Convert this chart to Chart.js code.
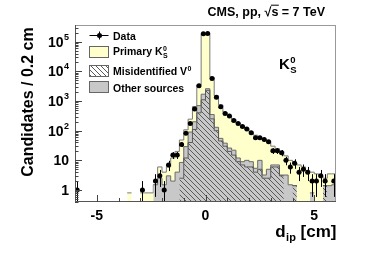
<!DOCTYPE html>
<html>
<head>
<meta charset="utf-8">
<script src="https://cdn.jsdelivr.net/npm/chart.js@4.4.1/dist/chart.umd.min.js"></script>
<style>
html,body{margin:0;padding:0;background:#ffffff;}
#box{position:relative;width:374px;height:253px;}
</style>
</head>
<body>
<div id="box"><canvas id="chart" width="374" height="253"></canvas></div>
<script>
// ---- data (bins of 0.2 cm) ----
const binEdges = [-6,-5.8,-5.6,-5.4,-5.2,-5,-4.8,-4.6,-4.4,-4.2,
  -4,-3.8,-3.6,-3.4,-3.2,-3,-2.8,-2.6,-2.4,-2.2,
  -2,-1.8,-1.6,-1.4,-1.2,-1,-0.8,-0.6,-0.4,-0.2,
  0,0.2,0.4,0.6,0.8,1,1.2,1.4,1.6,1.8,
  2,2.2,2.4,2.6,2.8,3,3.2,3.4,3.6,3.8,
  4,4.2,4.4,4.6,4.8,5,5.2,5.4,5.6,5.8,6];

const dataCounts = [
  1,0,0,0,0,0,0,0,0,0,
  0,0,0,0,0,1,0,0,2,3,
  1,7,15,15,34,82,175,540,3300,186000,
  190000,5800,1350,640,380,310,220,175,138,115,
  86,58,58,50,42,21,21,18,10,6,
  8,4,5,4,2,2,3,2,0,2];

const primaryK0S = [
  0,0.8,0,0,0,0,0,0,0,0,
  0,0,0,0.8,0,0,0.8,0.8,0,3.5,
  2.5,3,10,16,40,78,155,450,2800,188000,
  187000,6000,1370,685,380,294,218,173,136,108,
  83,65,50,49,39,23,18,17,11,8.5,
  6.6,5.6,6,4.5,3.2,2.7,3,1.1,2.1,2];

const misidV0 = [
  0,0,0,0,0,0,0,0,0,0,
  1,0,0,0,0,0,0,0,1,0,
  0,0,0,0,2.5,12,40,110,400,1100,
  2300,250,100,45,30,20,15,9,7,6,
  6,4,5,2.5,2.5,6,6,3,3,0,
  1.4,1.4,0,0,0,0,0,1.4,1.4,0];

const otherSources = [
  0,0,0,0,0,0,0,0,0,0,
  0,0,0.8,0,0,0.8,0,0,0.5,2.5,
  1.5,3,2,4,6,17,50,90,300,600,
  300,100,30,10,8,6,7,3,2,4,
  3,1.4,5,0.7,2.5,1,1,0.2,0.2,1.5,
  0,0,0,0,0.8,0.8,0,0,0,1.5];

const xTickValues = [-5, 0, 5];
const xTickLabels = ['-5', '0', '5'];
const yTickValues = [1, 10, 100, 1000, 10000, 100000];
const yTickMantissa = ['1', '10', '10', '10', '10', '10'];
const yTickExponent = ['', '', '2', '3', '4', '5'];

// ---- styling ----
const FONT = '"Liberation Sans", Arial, Helvetica, sans-serif';
const font = (s) => `bold ${s}px ${FONT}`;
const YELLOW = '#ffffcc';
const GRAY = '#c8c8c8';
const OUTLINE = '#7a7a7a';

const canvas = document.getElementById('chart');
const ctx0 = canvas.getContext('2d');

function makeHatch(ctx) {
  const s = 5;
  const c = document.createElement('canvas');
  c.width = s; c.height = s;
  const g = c.getContext('2d');
  g.strokeStyle = '#5a5a5a';
  g.lineWidth = 1;
  g.beginPath();
  g.moveTo(-1, -1); g.lineTo(s + 1, s + 1);
  g.moveTo(-1, s - 1); g.lineTo(1, s + 1);
  g.moveTo(s - 1, -1); g.lineTo(s + 1, 1);
  g.stroke();
  return ctx.createPattern(c, 'repeat');
}
const hatch = makeHatch(ctx0);

const grayTop = misidV0.map((v, i) => v + otherSources[i]);
const totalTop = grayTop.map((v, i) => v + primaryK0S[i]);

function histPoints(vals) {
  const pts = vals.map((v, i) => ({x: binEdges[i], y: v}));
  pts.push({x: binEdges[binEdges.length - 1], y: vals[vals.length - 1]});
  return pts;
}

const dataPoints = [];
dataCounts.forEach((n, i) => {
  if (n > 0) dataPoints.push({x: (binEdges[i] + binEdges[i + 1]) / 2, y: n, lo: binEdges[i], hi: binEdges[i + 1]});
});

const errorBars = {
  id: 'errorBars',
  afterDatasetsDraw(chart) {
    const {ctx, chartArea: a, scales: {x, y}} = chart;
    ctx.save();
    ctx.beginPath();
    ctx.rect(a.left, a.top, a.right - a.left, a.bottom - a.top);
    ctx.clip();
    ctx.strokeStyle = '#000';
    ctx.lineWidth = 1;
    dataPoints.forEach(p => {
      const e = Math.sqrt(p.y);
      const px = Math.round(x.getPixelForValue(p.x)) + 0.5;
      const py = Math.round(y.getPixelForValue(p.y)) + 0.5;
      const top = y.getPixelForValue(p.y + e);
      const bot = (p.y - e) > 0 ? y.getPixelForValue(p.y - e) : a.bottom;
      ctx.beginPath();
      ctx.moveTo(px, top); ctx.lineTo(px, bot);
      ctx.moveTo(x.getPixelForValue(p.lo), py); ctx.lineTo(x.getPixelForValue(p.hi), py);
      ctx.stroke();
    });
    ctx.restore();
  }
};

function line(ctx, x1, y1, x2, y2) {
  ctx.beginPath(); ctx.moveTo(x1, y1); ctx.lineTo(x2, y2); ctx.stroke();
}

function scripted(ctx, x, y, main, sup, sub, size, ssize) {
  ctx.font = font(size);
  ctx.textAlign = 'left';
  ctx.textBaseline = 'alphabetic';
  ctx.fillText(main, x, y);
  const w = ctx.measureText(main).width;
  ctx.font = font(ssize);
  if (sup) ctx.fillText(sup, x + w + 0.5, y - size * 0.4);
  if (sub) ctx.fillText(sub, x + w + 0.5, y + size * 0.3);
}

const decor = {
  id: 'decor',
  afterDraw(chart) {
    const {ctx, chartArea: a, scales: {x, y}} = chart;
    ctx.save();
    ctx.fillStyle = '#000';
    // frame
    ctx.lineWidth = 1;
    ctx.strokeStyle = '#999999';
    line(ctx, a.left, a.top + 0.5, a.right, a.top + 0.5);
    line(ctx, a.right - 0.5, a.top, a.right - 0.5, a.bottom);
    ctx.strokeStyle = '#555555';
    line(ctx, a.left + 0.5, a.top, a.left + 0.5, a.bottom);
    line(ctx, a.left, a.bottom - 0.5, a.right, a.bottom - 0.5);

    // y ticks (inward)
    ctx.strokeStyle = '#444444';
    for (let e = -1; e <= 5; e++) {
      for (let k = 1; k <= 9; k++) {
        const v = k * Math.pow(10, e);
        if (v < y.min || v > y.max) continue;
        const py = Math.round(y.getPixelForValue(v)) + 0.5;
        line(ctx, a.left, py, a.left + (k === 1 ? 7 : 3.5), py);
      }
    }
    // x ticks (inward)
    for (let t = -5; t <= 5; t++) {
      const px = Math.round(x.getPixelForValue(t)) + 0.5;
      line(ctx, px, a.bottom, px, a.bottom - (t % 5 === 0 ? 7 : 4));
    }

    // y labels
    ctx.textBaseline = 'alphabetic';
    yTickValues.forEach((v, i) => {
      const py = y.getPixelForValue(v);
      const right = 69;
      ctx.font = font(9);
      const ew = yTickExponent[i] ? ctx.measureText(yTickExponent[i]).width : 0;
      if (yTickExponent[i]) {
        ctx.textAlign = 'right';
        ctx.fillText(yTickExponent[i], right, py - 2);
      }
      ctx.font = font(14);
      ctx.textAlign = 'right';
      ctx.fillText(yTickMantissa[i], right - ew - (ew ? 0.5 : 0), py + 5);
    });

    // x labels
    ctx.font = font(14);
    ctx.textAlign = 'center';
    xTickValues.forEach((v, i) => {
      ctx.fillText(xTickLabels[i], x.getPixelForValue(v), 219.5);
    });

    // x title: d_ip [cm]
    {
      const base = 237;
      ctx.textAlign = 'left';
      ctx.font = font(17);
      const wd = ctx.measureText('d').width;
      const wc = ctx.measureText(' [cm]').width;
      ctx.font = font(11);
      const wi = ctx.measureText('ip').width;
      const x0 = a.right - (wd + wi + wc);
      ctx.font = font(17);
      ctx.fillText('d', x0, base);
      ctx.font = font(11);
      ctx.fillText('ip', x0 + wd + 0.5, base + 4);
      ctx.font = font(17);
      ctx.fillText(' [cm]', x0 + wd + wi + 0.5, base);
    }

    // y title
    ctx.save();
    ctx.translate(33, 102);
    ctx.rotate(-Math.PI / 2);
    ctx.font = font(16);
    ctx.textAlign = 'center';
    ctx.textBaseline = 'alphabetic';
    ctx.fillText('Candidates / 0.2 cm', 0, 0);
    ctx.restore();

    // top title
    {
      const t = 'CMS, pp, \u221As = 7 TeV';
      ctx.font = font(12.5);
      ctx.textAlign = 'left';
      const w = ctx.measureText(t).width;
      const x0 = 325 - w;
      const base = 15.7;
      ctx.fillText(t, x0, base);
      const wPre = ctx.measureText('CMS, pp, \u221A').width;
      const wS = ctx.measureText('s').width;
      ctx.strokeStyle = '#000';
      ctx.lineWidth = 1;
      line(ctx, x0 + wPre - 0.5, base - 10.5, x0 + wPre + wS + 0.5, base - 10.5);
    }

    // legend
    {
      const bx = 89.5, bw = 19, lx = 113;
      ctx.strokeStyle = '#000';
      ctx.lineWidth = 1;
      line(ctx, bx, 35.5, bx + bw, 35.5);
      line(ctx, 99.5, 31.5, 99.5, 39.5);
      ctx.beginPath(); ctx.arc(99.5, 35.5, 2.5, 0, Math.PI * 2); ctx.fill();

      ctx.strokeStyle = '#666666';
      ctx.fillStyle = YELLOW; ctx.fillRect(bx, 46.5, bw, 11); ctx.strokeRect(bx, 46.5, bw, 11);
      ctx.fillStyle = '#ffffff'; ctx.fillRect(bx, 65.5, bw, 11);
      ctx.fillStyle = hatch; ctx.fillRect(bx, 65.5, bw, 11); ctx.strokeRect(bx, 65.5, bw, 11);
      ctx.fillStyle = GRAY; ctx.fillRect(bx, 81.5, bw, 11); ctx.strokeRect(bx, 81.5, bw, 11);

      ctx.fillStyle = '#000';
      ctx.font = font(10.5);
      ctx.textAlign = 'left';
      ctx.fillText('Data', lx, 39.5);
      scripted(ctx, lx, 55, 'Primary K', '0', 'S', 10.5, 7);
      scripted(ctx, lx, 75, 'Misidentified V', '0', '', 10.5, 7);
      ctx.font = font(10.5);
      ctx.fillText('Other sources', lx, 91.5);
    }

    // K_S^0 annotation
    scripted(ctx, 279, 68.5, 'K', '0', 'S', 15, 9.5);

    ctx.restore();
  }
};

new Chart(canvas, {
  type: 'line',
  data: {
    datasets: [
      {
        label: 'Data',
        data: dataPoints,
        showLine: false,
        pointRadius: 2.5,
        pointBackgroundColor: '#000',
        pointBorderColor: '#000',
        pointBorderWidth: 0
      },
      {
        label: 'Misidentified V0',
        data: histPoints(misidV0),
        stepped: true,
        fill: 'origin',
        backgroundColor: hatch,
        borderColor: '#5a5a5a',
        borderWidth: 1,
        pointRadius: 0
      },
      {
        label: 'Other sources',
        data: histPoints(grayTop),
        stepped: true,
        fill: 'origin',
        backgroundColor: GRAY,
        borderColor: '#6a6a6a',
        borderWidth: 1,
        pointRadius: 0
      },
      {
        label: 'Primary K0S',
        data: histPoints(totalTop),
        stepped: true,
        fill: 'origin',
        backgroundColor: YELLOW,
        borderColor: OUTLINE,
        borderWidth: 1,
        pointRadius: 0
      }
    ]
  },
  options: {
    responsive: false,
    animation: false,
    devicePixelRatio: 1,
    layout: {padding: {left: 75, right: 38, top: 25, bottom: 51}},
    scales: {
      x: {type: 'linear', min: -6, max: 6, display: false},
      y: {type: 'logarithmic', min: 0.394, max: 366000, display: false}
    },
    plugins: {legend: {display: false}, tooltip: {enabled: false}}
  },
  plugins: [errorBars, decor]
});
</script>
</body>
</html>
